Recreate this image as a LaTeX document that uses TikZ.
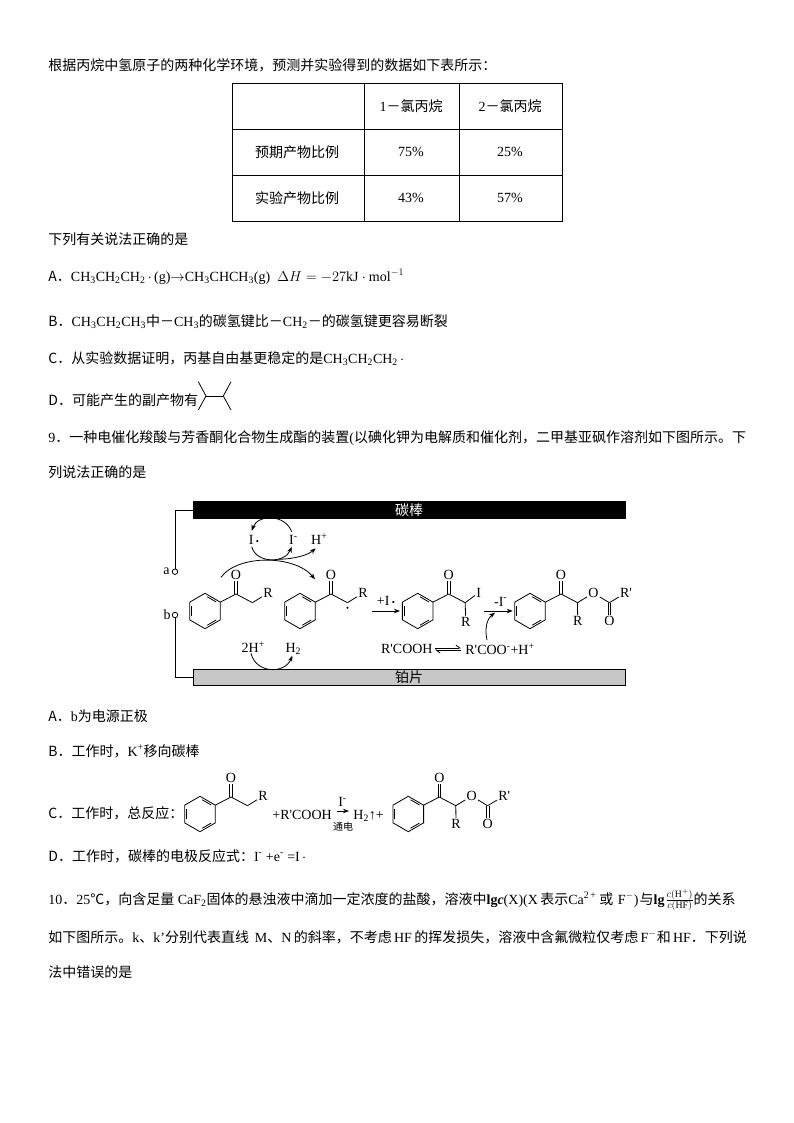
\documentclass[tikz,border=0pt]{standalone}
\usepackage{fontspec}
\setmainfont{Liberation Serif}
\newfontfamily\cjk{Noto Sans CJK SC}
\usetikzlibrary{arrows.meta}
\newcommand{\zh}[1]{{\cjk #1}}
\newcommand{\sbs}[1]{\textsubscript{#1}}
\newcommand{\sps}[1]{\textsuperscript{#1}}
\newcommand{\rad}{\,{\fontsize{9}{9}\selectfont\textbullet}}
\newcommand{\Rp}{R\textquotesingle}
\newcommand{\dblbond}[2]{
  \draw ([xshift=-1.3pt]#1) -- ([xshift=-1.3pt]#2.south);
  \draw ([xshift=1.3pt]#1) -- ([xshift=1.3pt]#2.south);
}
\newcommand{\benzoyl}{
  \draw (30:17.7) -- (90:17.7) -- (150:17.7) -- (210:17.7) -- (270:17.7) -- (330:17.7) -- cycle;
  \foreach \a in {270,30,150} \draw ({\a+9}:14.4) -- ({\a+51}:14.4);
  \coordinate (-ca) at (330:17.7);
  \coordinate (-co) at (31,-17);
  \coordinate (-ch) at (47.5,-8.3);
  \node[atom] (-o) at (31,-36) {O};
  \draw (-ca) -- (-co);
  \dblbond{-co}{-o}
  \draw (-co) -- (-ch);
}
\tikzset{
  ketone/.pic={
    \benzoyl
    \node[atom] (-r) at (63,-18) {R};
    \draw (-ch) -- (-r);
  },
  ester/.pic={
    \benzoyl
    \node[atom] (-r) at (47.7,10) {R};
    \node[atom] (-ox) at (63.3,-18) {O};
    \coordinate (-cx) at (79.3,-8.3);
    \node[atom] (-od) at (79.3,10) {O};
    \node[atom] (-rp) at (96,-18.3) {\Rp};
    \draw (-ch) -- (-r);
    \draw (-ch) -- (-ox);
    \draw (-ox) -- (-cx);
    \draw ([xshift=-1.3pt]-cx) -- ([xshift=-1.3pt]-od.north);
    \draw ([xshift=1.3pt]-cx) -- ([xshift=1.3pt]-od.north);
    \draw (-cx) -- (-rp);
  }
}
\begin{document}
\begin{tikzpicture}[x=1pt, y=-1pt, line width=0.8pt, every node/.style={font=\fontsize{14}{17}\selectfont}]
  \tikzstyle{txt}=[anchor=base west, inner sep=0pt]
  \tikzstyle{atom}=[inner sep=1pt]
  \tikzstyle{edge}=[-{Stealth[length=6pt, width=4.5pt]}]
  \tikzstyle{terminal}=[circle, draw, fill=white, inner sep=0pt, minimum size=5.5pt]
  \path[use as bounding box] (0,0) rectangle (794,1123);
  \node[txt] (intro) at (48,71) {\zh{根据丙烷中氢原子的两种化学环境，预测并实验得到的数据如下表所示：}};
  % table
  \draw (232,83) rectangle (562,221);
  \foreach \x in {364,459} { \draw (\x,83) -- (\x,221); }
  \foreach \y in {129,175} { \draw (232,\y) -- (562,\y); }
  \node (cellA) at (411,106) {1\zh{－氯丙烷}};
  \node (cellB) at (510,106) {2\zh{－氯丙烷}};
  \node (rowA) at (297,152) {\zh{预期产物比例}};
  \node (cellC) at (411,152) {75\%};
  \node (cellD) at (510,152) {25\%};
  \node (rowB) at (297,198) {\zh{实验产物比例}};
  \node (cellE) at (411,198) {43\%};
  \node (cellF) at (510,198) {57\%};
  % options
  \node[txt] (ask8) at (48,244) {\zh{下列有关说法正确的是}};
  \node[txt] (opt8a) at (48,281) {\zh{A．}CH\sbs{3}CH\sbs{2}CH\sbs{2}\,$\cdot$\,(g)$\rightarrow$CH\sbs{3}CHCH\sbs{3}(g)\ \ $\Delta H=-27\mathrm{kJ}\cdot\mathrm{mol}^{-1}$};
  \node[txt] (opt8b) at (48,326) {\zh{B．}CH\sbs{3}CH\sbs{2}CH\sbs{3}\zh{中－}CH\sbs{3}\zh{的碳氢键比－}CH\sbs{2}\zh{－的碳氢键更容易断裂}};
  \node[txt] (opt8c) at (48,363) {\zh{C．从实验数据证明，丙基自由基更稳定的是}CH\sbs{3}CH\sbs{2}CH\sbs{2}\,$\cdot$};
  \node[txt] (opt8d) at (48,405) {\zh{D．可能产生的副产物有}};
  \coordinate (c1) at (206,396); \coordinate (c2) at (223.3,396);
  \draw (198.3,381.7) -- (c1) -- (198.3,410);
  \draw (c1) -- (c2);
  \draw (231,381.7) -- (c2) -- (231,410);
  \node[txt] (q9a) at (48,442) {9\zh{．一种电催化羧酸与芳香酮化合物生成酯的装置}(\zh{以碘化钾为电解质和催化剂，二甲基亚砜作溶剂如下图所示。下}};
  \node[txt] (q9b) at (48,477) {\zh{列说法正确的是}};
  % cell
  \node[draw, fill=black, text=white, minimum width=432pt, minimum height=17pt, inner sep=0pt] (carbon) at (409,510) {\zh{碳棒}};
  \node[draw, fill=black!22, minimum width=432pt, minimum height=16.5pt, inner sep=0pt] (platinum) at (409,677.5) {\zh{铂片}};
  \node[terminal] (a) at (175,571.7) {};
  \node[terminal] (b) at (175,615) {};
  \node (alabel) at (166.5,571) {a};
  \node (blabel) at (167,615) {b};
  \draw (carbon.west) -| (a.north);
  \draw (b.south) |- (platinum.west);
  \node (irad) at (254,540) {I\rad};
  \node (iion) at (293.3,540) {I\sps{-}};
  \node (hion) at (319.3,539.5) {H\sps{+}};
  \node (twoh) at (253.3,647) {2H\sps{+}};
  \node (htwo) at (293.3,649) {H\sbs{2}};
  \coordinate (s1) at (291.7,531.7); \coordinate (e1) at (251.7,530.7);
  \coordinate (s2) at (251.7,546.7); \coordinate (e2) at (291.7,546.7);
  \coordinate (s3) at (278,559.3); \coordinate (e3) at (315.7,548.3);
  \coordinate (s4) at (221,577.3); \coordinate (e4) at (315,579.3);
  \coordinate (s5) at (251,653.3); \coordinate (e5) at (292.3,655.7);
  \coordinate (s6) at (487,640); \coordinate (e6) at (495,612.7);
  \draw[edge] (s1) .. controls (285,514) and (258,514) .. (e1);
  \draw[edge] (s2) .. controls (256,563.6) and (285,563.6) .. (e2);
  \draw[edge] (s3) .. controls (295,559) and (308,555) .. (e3);
  \draw[edge] (s4) .. controls (238,554) and (295,555) .. (e4);
  \draw[edge] (s5) .. controls (256,674) and (285,674) .. (e5);
  \draw[edge] (s6) .. controls (484,627) and (488,618) .. (e6);
  % molecules
  \pic (mol1) at (205,611) {ketone};
  \pic (mol2) at (300,611) {ketone};
  \fill (mol2-ch) ++(0,5) circle (1.2);
  \pic (mol3) at (417.7,611) {code={\benzoyl
    \node[atom] (-i) at (61,-18.3) {I};
    \node[atom] (-r) at (48,10.7) {R};
    \draw (-ch) -- (-i);
    \draw (-ch) -- (-r);
  }};
  \pic (mol4) at (530,611) {ester};
  \coordinate (s7) at (372,611); \coordinate (e7) at (400,611);
  \coordinate (s8) at (484,611); \coordinate (e8) at (512.7,611);
  \draw[edge] (s7) -- (e7);
  \draw[edge] (s8) -- (e8);
  \node (plusi) at (386,601) {+I\rad};
  \node (minusi) at (500.7,601.5) {-I\sps{-}};
  \node[anchor=east, inner sep=0pt] (acid) at (433,649) {\Rp COOH};
  \node[anchor=west, inner sep=0pt] (anion) at (465,649) {\Rp COO\sps{-}+H\sps{+}};
  \draw[-{Straight Barb[left, length=4pt, width=6pt]}] ([yshift=1pt,xshift=2pt]acid.east) -- ([yshift=1pt,xshift=-4pt]anion.west);
  \draw[-{Straight Barb[left, length=4pt, width=6pt]}] ([yshift=-1pt,xshift=-4pt]anion.west) -- ([yshift=-1pt,xshift=2pt]acid.east);
  % lower options
  \node[txt] (opt9a) at (48,721) {\zh{A．}b\zh{为电源正极}};
  \node[txt] (opt9b) at (48,756) {\zh{B．工作时，}K\sps{+}\zh{移向碳棒}};
  \node[txt] (opt9c) at (48,818) {\zh{C．工作时，总反应：}};
  \pic (mol5) at (200,814) {ketone};
  \node[txt] (reag) at (272,819) {+\Rp COOH};
  \node (cat) at (342.5,802) {I\sps{-}};
  \coordinate (s9) at (337,811); \coordinate (e9) at (349,811);
  \draw[edge] (s9) -- (e9);
  \node (elec) at (343,827) {\fontsize{10}{10}\selectfont\zh{通电}};
  \node[txt] (prod) at (353,819) {H\sbs{2}↑+};
  \pic (mol6) at (408.3,814) {ester};
  \node[txt] (opt9d) at (48,861) {\zh{D．工作时，碳棒的电极反应式：}I\sps{-} +e\sps{-} =I\,$\cdot$};
  \node[txt] (q10a) at (48,904) {10\zh{．}25\zh{℃，向含足量} CaF\sbs{2}\zh{固体的悬浊液中滴加一定浓度的盐酸，溶液中}\textbf{lg\textit{c}}(X)(X\,\zh{表示}Ca\sps{2\,+}\hspace{3pt}\zh{或} \hspace{1pt}F\sps{$-$})\hspace{1pt}\zh{与}\textbf{lg}\hspace{1pt}$\frac{c(\mathrm{H}^+)}{c(\mathrm{HF})}$\zh{的关系}};
  \node[txt] (q10b) at (48,942) {\zh{如下图所示。}k\zh{、}k'\zh{分别代表直线}\, M\zh{、}N\,\zh{的斜率，不考虑}\,HF\,\zh{的挥发损失，溶液中含氟微粒仅考虑}\,F\sps{$-$}\zh{和}\,HF\zh{．下列说}};
  \node[txt] (q10c) at (48,977) {\zh{法中错误的是}};
\end{tikzpicture}
\end{document}
